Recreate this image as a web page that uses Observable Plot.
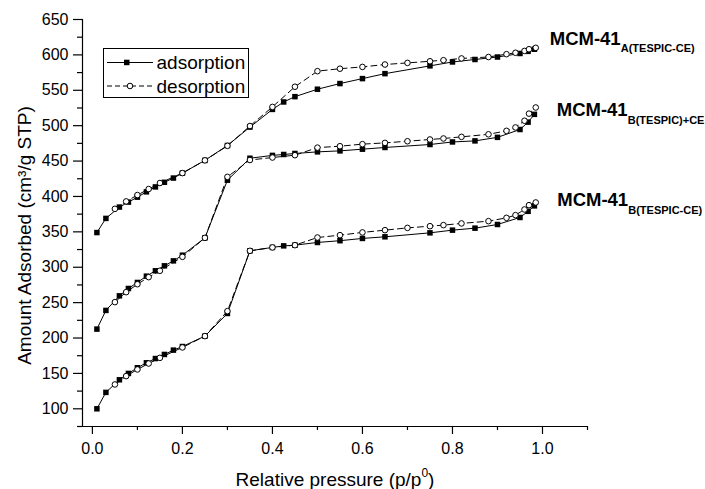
<!DOCTYPE html>
<html><head><meta charset="utf-8">
<script src="https://cdn.jsdelivr.net/npm/d3@7"></script>
<script src="https://cdn.jsdelivr.net/npm/@observablehq/plot@0.6"></script>
<style>body{margin:0;background:#fff}#chart{width:705px;height:489px}</style>
</head><body><div id="chart"></div>
<script>
// ---- data ----
const adsX = [0.01, 0.03, 0.06, 0.08, 0.10, 0.12, 0.14, 0.16, 0.18, 0.20, 0.25, 0.30, 0.35, 0.40, 0.425, 0.45, 0.50, 0.55, 0.60, 0.65, 0.75, 0.80, 0.85, 0.90, 0.95, 0.968, 0.982];
const adsA   = [349, 369, 385, 392, 399, 406.5, 413.5, 420, 426, 433, 451, 472, 498, 523, 533.5, 541, 551.5, 559.5, 566.5, 573.5, 584.5, 590, 593.5, 597, 602, 605, 608];
const adsBCE = [212.6, 239, 259.6, 270, 278.5, 287.4, 295, 302, 309, 317, 341.5, 423, 454, 458, 459.3, 460.7, 463, 464.4, 466.8, 469.2, 473.4, 477, 478.5, 483.5, 494.6, 505, 516];
const adsB   = [100, 123.2, 141, 150, 158, 165, 171, 176.8, 182.9, 188, 202.7, 234.7, 323.2, 328, 330.2, 331.2, 335, 337.5, 340.7, 343, 348.6, 352.4, 355.2, 360.4, 370.3, 379, 386.7];

const desX = [0.05, 0.075, 0.10, 0.125, 0.15, 0.20, 0.25, 0.30, 0.35, 0.40, 0.45, 0.50, 0.55, 0.60, 0.65, 0.70, 0.75, 0.78, 0.82, 0.88, 0.92, 0.94, 0.96, 0.97, 0.985];
const desA   = [382.5, 393, 402, 410.5, 419, 433, 451, 471.5, 499.5, 526.5, 555, 577, 580.5, 583, 586.4, 588.7, 591, 592.5, 595, 597, 601, 603, 605.6, 608, 610];
const desBCE = [250.7, 264.8, 276, 286, 295, 314.7, 341.5, 427.7, 451.5, 455, 458.3, 469, 471, 473.9, 475.7, 478, 480.5, 481.9, 484.2, 487.8, 492.7, 497.5, 507, 517, 525.7];
const desB   = [134.4, 146.2, 155.6, 164, 172, 186.7, 202.7, 238, 323.2, 328, 331.2, 342, 345.3, 349.2, 352.4, 355.6, 358, 359.5, 361.9, 365.1, 369.8, 373.6, 381.6, 387.7, 391.5];

const sampleMain = ["MCM-41", "MCM-41", "MCM-41"];
const sampleSub = ["A(TESPIC-CE)", "B(TESPIC)+CE", "B(TESPIC-CE)"];
const legendLabels = ["adsorption", "desorption"];
const xTitle = "Relative pressure (p/p";
const xTitleSup = "0";
const yTitle = "Amount Adsorbed (cm³/g STP)";

const xDomain = [-0.022, 1.1];
const yDomain = [75, 650];
const xTicks = [0, 0.2, 0.4, 0.6, 0.8, 1.0];
const xMinor = [0.1, 0.3, 0.5, 0.7, 0.9, 1.1];
const yTicks = [100, 150, 200, 250, 300, 350, 400, 450, 500, 550, 600, 650];
const yMinor = [75, 125, 175, 225, 275, 325, 375, 425, 475, 525, 575, 625];

// ---- build tables ----
const rows = (xs, ys, s) => xs.map((x, i) => ({x, y: ys[i], s}));
const ads = [...rows(adsX, adsA, 0), ...rows(adsX, adsBCE, 1), ...rows(adsX, adsB, 2)];
const des = [...rows(desX, desA, 0), ...rows(desX, desBCE, 1), ...rows(desX, desB, 2)];
const ends = [desA, desBCE, desB].map((ys, i) => ({x: desX[desX.length - 1], y: ys[ys.length - 1], main: sampleMain[i], sub: sampleSub[i]}));

const FONT = "'Liberation Sans', Arial, sans-serif";
const labelMark = (d, dx, dy) => [
  Plot.text([d], {x: "x", y: "y", text: "main", dx, dy, textAnchor: "start", lineAnchor: "bottom", fontWeight: "bold", fontSize: 18.5}),
  Plot.text([d], {x: "x", y: "y", text: "sub", dx: dx + 71, dy: dy + 7.5, textAnchor: "start", lineAnchor: "bottom", fontWeight: "bold", fontSize: 11})
];

const plot = Plot.plot({
  width: 705, height: 489,
  marginLeft: 82, marginRight: 118, marginTop: 19, marginBottom: 63,
  style: {fontFamily: FONT, fontSize: "16px", color: "black", background: "white", overflow: "visible"},
  x: {domain: xDomain},
  y: {domain: yDomain},
  marks: [
    Plot.ruleX([xDomain[0]], {stroke: "black", strokeWidth: 1.2}),
    Plot.ruleY([yDomain[0]], {stroke: "black", strokeWidth: 1.2}),
    Plot.axisX({ticks: xTicks, tickSize: 8, tickPadding: 8, tickFormat: d3.format(".1f"), fontSize: 16, label: null, strokeWidth: 1.2}),
    Plot.axisX({ticks: xMinor, tickSize: 4, tickFormat: () => "", label: null, strokeWidth: 1.2}),
    Plot.axisY({ticks: yTicks, tickSize: 9, tickPadding: 5, fontSize: 16, label: null, strokeWidth: 1.2}),
    Plot.axisY({ticks: yMinor, tickSize: 5, tickFormat: () => "", label: null, strokeWidth: 1.2}),
    Plot.line(ads, {x: "x", y: "y", z: "s", stroke: "black", strokeWidth: 1}),
    Plot.dot(ads, {x: "x", y: "y", symbol: "square", r: 3.1, fill: "black", stroke: "none"}),
    Plot.line(des, {x: "x", y: "y", z: "s", stroke: "black", strokeWidth: 1, strokeDasharray: "6,4"}),
    Plot.dot(des, {x: "x", y: "y", r: 2.8, fill: "white", stroke: "black", strokeWidth: 1}),
    ...labelMark(ends[0], 14, -3),
    ...labelMark(ends[1], 21, 9),
    ...labelMark(ends[2], 21.5, 4),
    Plot.text([yTitle], {frameAnchor: "left", rotate: -90, dx: -52, dy: 12.5, textAnchor: "middle", lineAnchor: "bottom", fontSize: 19}),
    Plot.text([xTitle], {frameAnchor: "bottom", dx: 0, dy: 59, textAnchor: "middle", lineAnchor: "bottom", fontSize: 19})
  ]
});
document.getElementById("chart").appendChild(plot);

// superscript on x title
const svg = d3.select(plot);
svg.selectAll("text").filter(function() { return this.textContent === xTitle; }).each(function() {
  const t = d3.select(this);
  t.text(null);
  t.append("tspan").text(xTitle);
  t.append("tspan").style("font-size", "12px").attr("dy", "-0.7em").text(xTitleSup);
  t.append("tspan").attr("dy", "0.45em").text(")");
});

// legend box
const lg = svg.append("g");
lg.append("rect").attr("x", 103.5).attr("y", 48.5).attr("width", 145).attr("height", 49).attr("fill", "white").attr("stroke", "black").attr("stroke-width", 1);
lg.append("line").attr("x1", 107).attr("x2", 153).attr("y1", 62.5).attr("y2", 62.5).attr("stroke", "black");
lg.append("rect").attr("x", 124).attr("y", 59.7).attr("width", 5.5).attr("height", 5.5).attr("fill", "black");
lg.append("line").attr("x1", 107).attr("x2", 153).attr("y1", 86).attr("y2", 86).attr("stroke", "black").attr("stroke-dasharray", "5,3");
lg.append("circle").attr("cx", 130).attr("cy", 86).attr("r", 2.8).attr("fill", "white").attr("stroke", "black");
[[legendLabels[0], 68.5], [legendLabels[1], 92.5]].forEach(([t, y]) => {
  lg.append("text").attr("x", 156.5).attr("y", y)
    .style("font-family", FONT).style("font-size", "19px").style("text-anchor", "start").attr("fill", "black")
    .text(t);
});
</script>
</body></html>
